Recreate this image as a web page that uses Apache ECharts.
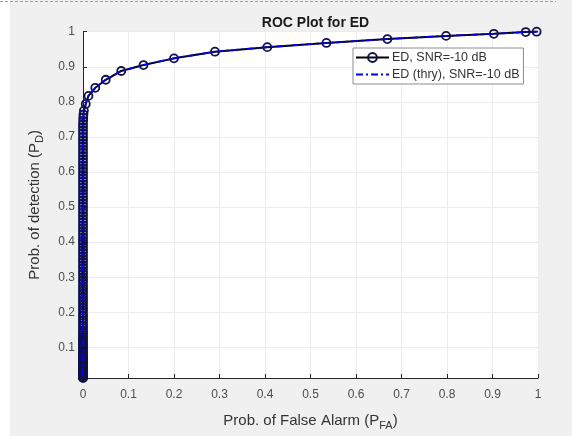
<!DOCTYPE html>
<html>
<head>
<meta charset="utf-8">
<script src="https://cdn.jsdelivr.net/npm/echarts@6/dist/echarts.min.js"></script>
<style>
html,body{margin:0;padding:0;background:#fff;}
#c{width:572px;height:436px;}
</style>
</head>
<body>
<div id="c"></div>
<script>
// Simulated ROC (upper curved part)
var pfaSimUpper = [0.997, 0.973, 0.903, 0.798, 0.669, 0.535, 0.405, 0.290, 0.200, 0.133, 0.084, 0.050, 0.027, 0.012, 0.006, 0.002, 0.001, 0.0006, 0.0003];
var pdSimUpper  = [1.000, 0.999, 0.994, 0.988, 0.979, 0.968, 0.956, 0.943, 0.924, 0.905, 0.888, 0.863, 0.840, 0.817, 0.794, 0.775, 0.764, 0.755, 0.746];
// Simulated ROC points where Pfa is (practically) zero
var pdSimAtZeroPfa = [0.737, 0.728, 0.719, 0.710, 0.700, 0.691, 0.682, 0.673, 0.664, 0.655, 0.646, 0.637, 0.628, 0.619, 0.610, 0.601, 0.592, 0.583, 0.574, 0.565, 0.556, 0.547, 0.538, 0.529, 0.520, 0.511, 0.502, 0.493, 0.484, 0.475, 0.466, 0.457, 0.448, 0.440, 0.431, 0.422, 0.413, 0.404, 0.396, 0.387, 0.378, 0.370, 0.361, 0.352, 0.344, 0.335, 0.327, 0.318, 0.310, 0.301, 0.293, 0.285, 0.276, 0.268, 0.260, 0.252, 0.244, 0.236, 0.228, 0.220, 0.212, 0.205, 0.197, 0.190, 0.183, 0.176, 0.169, 0.162, 0.155, 0.148, 0.142, 0.136, 0.130, 0.124, 0.118, 0.112, 0.107, 0.102, 0.097, 0.092, 0.087, 0.082, 0.078, 0.074, 0.070, 0.066, 0.062, 0.058, 0.055, 0.052, 0.049, 0.046, 0.043, 0.040, 0.037, 0.035, 0.033, 0.031, 0.029, 0.027, 0.025, 0.023, 0.021, 0.019, 0.018, 0.017, 0.016, 0.015, 0.014, 0.013];
// Theoretical ROC
var pfaThry = [1.000, 0.973, 0.903, 0.798, 0.669, 0.535, 0.405, 0.290, 0.200, 0.133, 0.084, 0.050, 0.027, 0.012, 0.006, 0.002, 0.001, 0.0003, 0.0];
var pdThry  = [1.000, 0.999, 0.994, 0.988, 0.979, 0.968, 0.956, 0.943, 0.924, 0.905, 0.888, 0.863, 0.840, 0.817, 0.794, 0.775, 0.764, 0.746, 0.013];
var yTicks = [0.1, 0.2, 0.3, 0.4, 0.5, 0.6, 0.7, 0.8, 0.9, 1];
var yMin = 0.0128;

var simData = pfaSimUpper.map(function (x, i) { return [x, pdSimUpper[i]]; })
  .concat(pdSimAtZeroPfa.map(function (y) { return [0, y]; }));
var thryData = pfaThry.map(function (x, i) { return [x, pdThry[i]]; });

var chart = echarts.init(document.getElementById('c'), null, {renderer: 'canvas'});
var font = 'Liberation Sans, Arial, Helvetica, sans-serif';
var tickColor = '#4d4d4d';
chart.setOption({
  animation: false,
  backgroundColor: 'transparent',
  graphic: [
    {type: 'rect', z: -10, shape: {x: 10, y: 0, width: 562, height: 436}, style: {fill: '#f0f0f0'}},
    {type: 'line', z: 10, shape: {x1: 0, y1: 1.5, x2: 556, y2: 1.5}, style: {stroke: '#8fa3c0', lineWidth: 1, lineDash: [3, 2]}}
  ],
  title: {
    text: 'ROC Plot for ED', left: 310.5, textAlign: 'center', top: 11,
    textStyle: {fontFamily: font, fontSize: 14, fontWeight: 'bold', color: '#1a1a1a'}
  },
  legend: {
    left: 353, top: 48, orient: 'vertical',
    backgroundColor: '#fff', borderColor: '#8c8c8c', borderWidth: 1, borderRadius: 0,
    padding: [3, 4, 3, 2], itemGap: 4, itemWidth: 33, itemHeight: 11,
    textStyle: {fontFamily: font, fontSize: 12.5, color: '#333', padding: [0, 0, 0, -2]},
    data: [
      {name: 'ED, SNR=-10 dB'},
      {name: 'ED (thry), SNR=-10 dB', itemStyle: {opacity: 0}}
    ]
  },
  grid: {left: 83, right: 34, top: 31.7, bottom: 49.3, containLabel: false,
    show: true, backgroundColor: '#fff', borderWidth: 0},
  xAxis: {
    type: 'value', min: 0, max: 1, interval: 0.1,
    name: 'Prob. of False Alarm (P{sub|FA})', nameLocation: 'middle', nameGap: 32,
    nameTextStyle: {fontFamily: font, fontSize: 15, color: '#333',
      rich: {sub: {fontFamily: font, fontSize: 11, color: '#333', padding: [10, 0, 0, 0]}}},
    axisLine: {show: true, lineStyle: {color: '#262626', width: 1}},
    axisTick: {show: true, inside: true, length: 4, lineStyle: {color: '#262626'}},
    axisLabel: {fontFamily: font, fontSize: 12, color: tickColor, margin: 11,
      formatter: function (v) { return String(Math.round(v * 10) / 10); }},
    splitLine: {show: true, lineStyle: {color: '#ececec', width: 1}}
  },
  yAxis: {
    type: 'value', min: yMin, max: 1,
    name: 'Prob. of detection (P{sub|D})', nameLocation: 'middle', nameGap: 38, nameRotate: 90,
    nameTextStyle: {fontFamily: font, fontSize: 15, color: '#333',
      rich: {sub: {fontFamily: font, fontSize: 11, color: '#333', padding: [10, 0, 0, 0]}}},
    axisLine: {show: true, lineStyle: {color: '#262626', width: 1}},
    axisTick: {show: true, inside: true, length: 4, lineStyle: {color: '#262626'}, customValues: yTicks},
    axisLabel: {fontFamily: font, fontSize: 12, color: tickColor, margin: 8, customValues: yTicks,
      formatter: function (v) { return String(Math.round(v * 10) / 10); }},
    splitLine: {show: true, lineStyle: {color: '#ececec', width: 1}}
  },
  series: [
    {
      name: 'ED, SNR=-10 dB', type: 'line', data: simData,
      symbol: 'circle', symbolSize: 8, showSymbol: true, clip: false,
      lineStyle: {color: '#000', width: 2},
      itemStyle: {color: 'rgba(0,0,0,0)', borderColor: '#10104a', borderWidth: 1.8},
      z: 2
    },
    {
      name: 'ED (thry), SNR=-10 dB', type: 'line', data: thryData,
      symbol: 'none', clip: false,
      lineStyle: {color: '#0000ff', width: 1.8, type: [7, 3, 2, 3]},
      itemStyle: {color: '#0000ff'},
      z: 3
    }
  ]
});
</script>
</body>
</html>
